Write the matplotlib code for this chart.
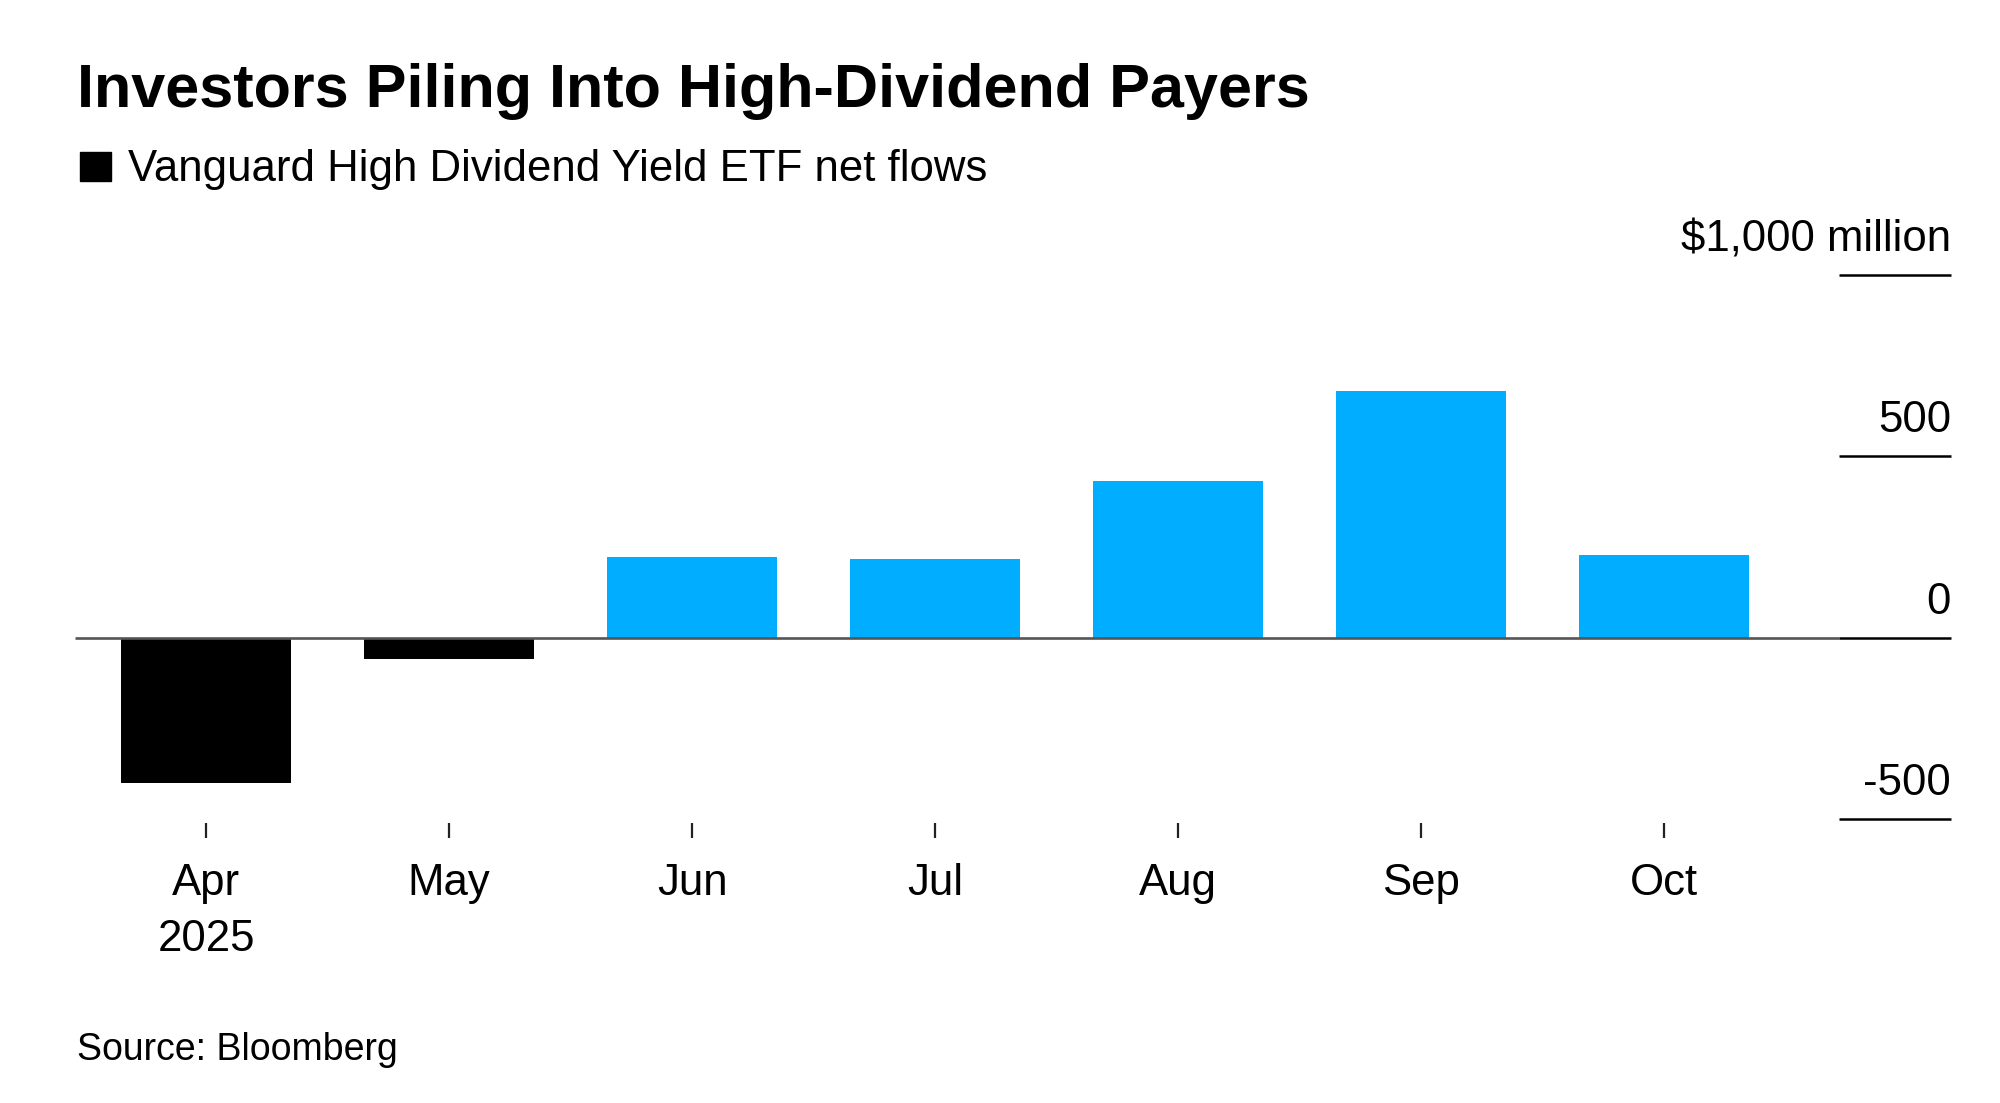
import matplotlib
matplotlib.use('Agg')
import matplotlib.pyplot as plt
from matplotlib.patches import Rectangle

months = ['Apr\n2025', 'May', 'Jun', 'Jul', 'Aug', 'Sep', 'Oct']
flows = [-400, -60, 223, 218, 433, 680, 229]  # $ million
y_ticks = [1000, 500, 0, -500]
y_labels = ['$1,000 million', '500', '0', '-500']

BLUE = '#00adff'
plt.rcParams['font.family'] = ['Liberation Sans', 'DejaVu Sans']

fig = plt.figure(figsize=(20, 11.03), dpi=100)
ax = fig.add_axes([0.0375, 0.2541, 0.938, 0.5295])

x = list(range(len(flows)))
colors = [BLUE if v >= 0 else 'black' for v in flows]
ax.bar(x, flows, width=0.70, color=colors, zorder=2)

xmin, xmax, data_end = -0.54, 7.18, 6.72
ax.set_xlim(xmin, xmax)
ax.set_ylim(-510, 1100)

# zero line across the plot area, short gridlines under the right labels
ax.hlines(0, xmin, data_end, color='#555555', lw=1.9, zorder=3)
for yv, lab in zip(y_ticks, y_labels):
    ax.hlines(yv, data_end, xmax, color='black', lw=1.8, zorder=3, clip_on=False)
    ax.text(xmax, yv + 66, lab, ha='right', va='baseline', fontsize=31.5)

ax.set_xticks(x)
ax.set_xticklabels(months, fontsize=31.5)
for t in ax.get_xticklabels():
    t.set_linespacing(1.45)
ax.tick_params(axis='x', direction='out', length=10.8, width=1.6, color='#222222', pad=18.5)
ax.set_yticks([])
for s in ax.spines.values():
    s.set_visible(False)

fig.text(0.0385, 0.903, 'Investors Piling Into High-Dividend Payers',
         fontsize=44, fontweight='bold', va='baseline')
fig.patches.append(Rectangle((0.040, 0.836), 0.0155, 0.0263,
                             transform=fig.transFigure, color='black'))
fig.text(0.064, 0.836, 'Vanguard High Dividend Yield ETF net flows',
         fontsize=31.5, va='baseline')
fig.text(0.0385, 0.039, 'Source: Bloomberg', fontsize=27, va='baseline')

fig.savefig('out.png', dpi=100, facecolor='white')
